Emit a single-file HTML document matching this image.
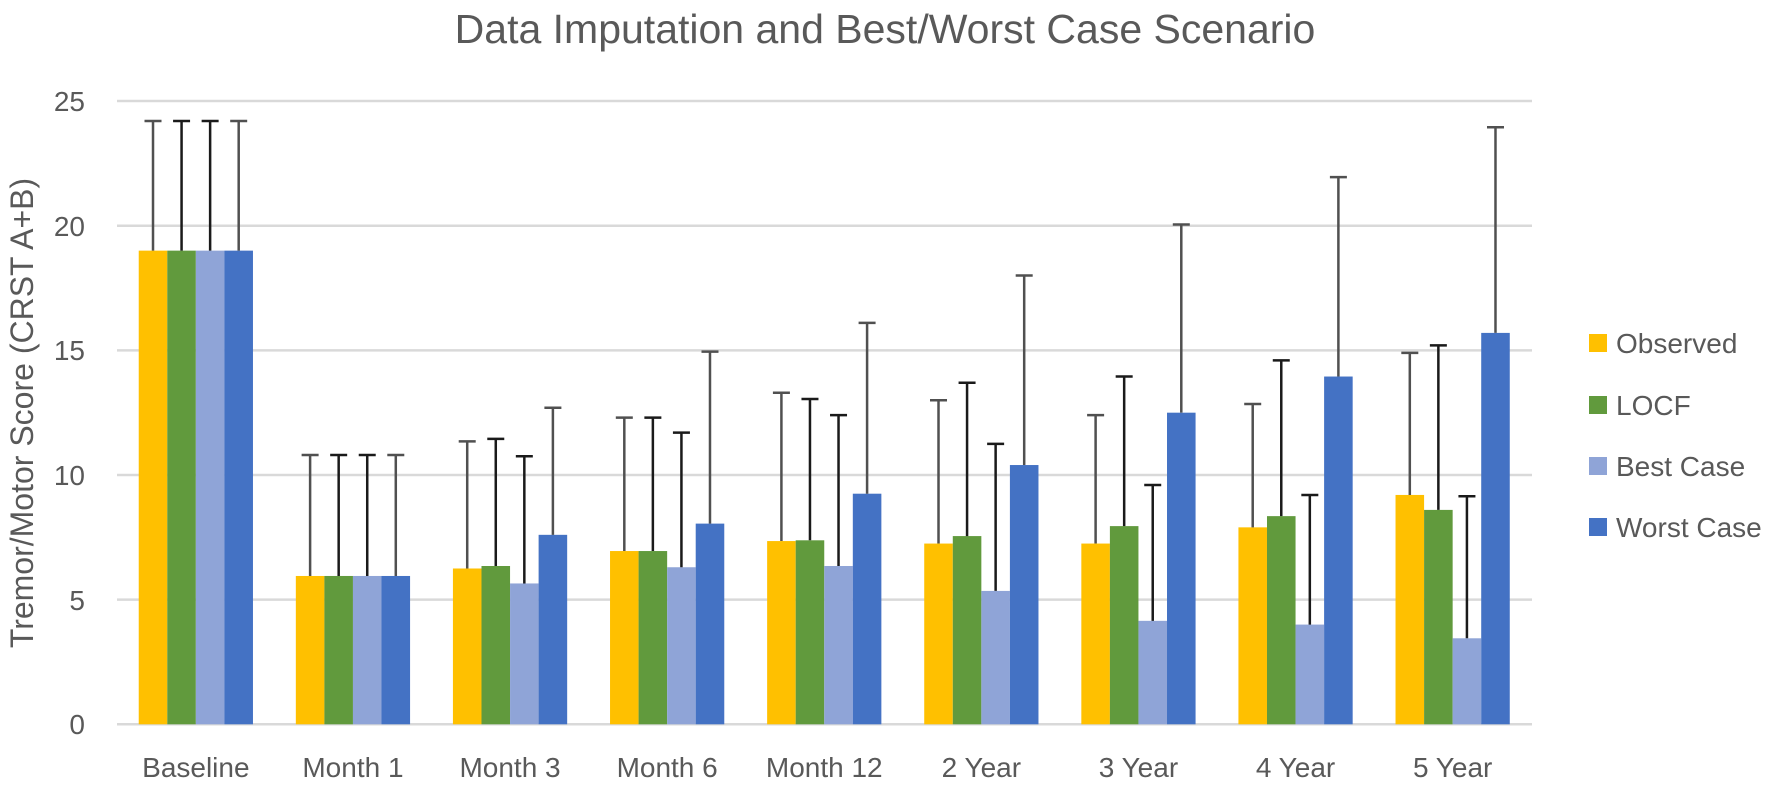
<!DOCTYPE html>
<html><head><meta charset="utf-8"><style>
html,body{margin:0;padding:0;background:#fff;}
svg{display:block;}
text{font-family:"Liberation Sans",Arial,sans-serif;fill:#595959;}
</style></head><body>
<svg width="1772" height="785" viewBox="0 0 1772 785" xmlns="http://www.w3.org/2000/svg">
<rect width="1772" height="785" fill="#fff"/>
<text x="885" y="43" font-size="41" text-anchor="middle">Data Imputation and Best/Worst Case Scenario</text>
<g stroke="#d9d9d9" stroke-width="2.5">
<line x1="117" x2="1532" y1="101.05" y2="101.05"/>
<line x1="117" x2="1532" y1="225.7" y2="225.7"/>
<line x1="117" x2="1532" y1="350.35" y2="350.35"/>
<line x1="117" x2="1532" y1="475" y2="475"/>
<line x1="117" x2="1532" y1="599.65" y2="599.65"/>
<line x1="117" x2="1532" y1="724.3" y2="724.3"/>
</g>
<g font-size="28" text-anchor="end">
<text x="85" y="111">25</text>
<text x="85" y="236">20</text>
<text x="85" y="360">15</text>
<text x="85" y="485">10</text>
<text x="85" y="610">5</text>
<text x="85" y="734">0</text>
</g>
<text transform="translate(33,413) rotate(-90)" font-size="32" text-anchor="middle">Tremor/Motor Score (CRST A+B)</text>

<!-- Baseline -->
<g transform="translate(195.85,0)">
<rect x="-57.12" y="250.63" width="28.56" height="473.67" fill="#FFC000"/>
<rect x="-28.56" y="250.63" width="28.56" height="473.67" fill="#619A3D"/>
<rect x="0" y="250.63" width="28.56" height="473.67" fill="#8FA4D7"/>
<rect x="28.56" y="250.63" width="28.56" height="473.67" fill="#4472C4"/>
<path d="M-42.84 250.63V120.99M-51.34 120.99H-34.34M42.84 250.63V120.99M34.34 120.99H51.34" stroke="#505050" stroke-width="2.5" fill="none"/>
<path d="M-14.28 250.63V120.99M-22.78 120.99H-5.78M14.28 250.63V120.99M5.78 120.99H22.78" stroke="#1a1a1a" stroke-width="2.5" fill="none"/>
</g>
<!-- Month 1 -->
<g transform="translate(352.95,0)">
<rect x="-57.12" y="575.97" width="28.56" height="148.33" fill="#FFC000"/>
<rect x="-28.56" y="575.97" width="28.56" height="148.33" fill="#619A3D"/>
<rect x="0" y="575.97" width="28.56" height="148.33" fill="#8FA4D7"/>
<rect x="28.56" y="575.97" width="28.56" height="148.33" fill="#4472C4"/>
<path d="M-42.84 575.97V455.06M-51.34 455.06H-34.34M42.84 575.97V455.06M34.34 455.06H51.34" stroke="#505050" stroke-width="2.5" fill="none"/>
<path d="M-14.28 575.97V455.06M-22.78 455.06H-5.78M14.28 575.97V455.06M5.78 455.06H22.78" stroke="#1a1a1a" stroke-width="2.5" fill="none"/>
</g>
<!-- Month 3 -->
<g transform="translate(510.05,0)">
<rect x="-57.12" y="568.49" width="28.56" height="155.81" fill="#FFC000"/>
<rect x="-28.56" y="566.0" width="28.56" height="158.3" fill="#619A3D"/>
<rect x="0" y="583.45" width="28.56" height="140.85" fill="#8FA4D7"/>
<rect x="28.56" y="534.83" width="28.56" height="189.47" fill="#4472C4"/>
<path d="M-42.84 568.49V441.34M-51.34 441.34H-34.34M42.84 534.83V407.69M34.34 407.69H51.34" stroke="#505050" stroke-width="2.5" fill="none"/>
<path d="M-14.28 566.0V438.85M-22.78 438.85H-5.78M14.28 583.45V456.3M5.78 456.3H22.78" stroke="#1a1a1a" stroke-width="2.5" fill="none"/>
</g>
<!-- Month 6 -->
<g transform="translate(667.15,0)">
<rect x="-57.12" y="551.04" width="28.56" height="173.26" fill="#FFC000"/>
<rect x="-28.56" y="551.04" width="28.56" height="173.26" fill="#619A3D"/>
<rect x="0" y="567.24" width="28.56" height="157.06" fill="#8FA4D7"/>
<rect x="28.56" y="523.61" width="28.56" height="200.69" fill="#4472C4"/>
<path d="M-42.84 551.04V417.66M-51.34 417.66H-34.34M42.84 523.61V351.6M34.34 351.6H51.34" stroke="#505050" stroke-width="2.5" fill="none"/>
<path d="M-14.28 551.04V417.66M-22.78 417.66H-5.78M14.28 567.24V432.62M5.78 432.62H22.78" stroke="#1a1a1a" stroke-width="2.5" fill="none"/>
</g>
<!-- Month 12 -->
<g transform="translate(824.25,0)">
<rect x="-57.12" y="541.06" width="28.56" height="183.24" fill="#FFC000"/>
<rect x="-28.56" y="540.3" width="28.56" height="184.0" fill="#619A3D"/>
<rect x="0" y="566.0" width="28.56" height="158.3" fill="#8FA4D7"/>
<rect x="28.56" y="493.7" width="28.56" height="230.6" fill="#4472C4"/>
<path d="M-42.84 541.06V392.73M-51.34 392.73H-34.34M42.84 493.7V322.93M34.34 322.93H51.34" stroke="#505050" stroke-width="2.5" fill="none"/>
<path d="M-14.28 540.3V398.96M-22.78 398.96H-5.78M14.28 566.0V415.17M5.78 415.17H22.78" stroke="#1a1a1a" stroke-width="2.5" fill="none"/>
</g>
<!-- 2 Year -->
<g transform="translate(981.35,0)">
<rect x="-57.12" y="543.56" width="28.56" height="180.74" fill="#FFC000"/>
<rect x="-28.56" y="536.08" width="28.56" height="188.22" fill="#619A3D"/>
<rect x="0" y="590.92" width="28.56" height="133.38" fill="#8FA4D7"/>
<rect x="28.56" y="465.03" width="28.56" height="259.27" fill="#4472C4"/>
<path d="M-42.84 543.56V400.21M-51.34 400.21H-34.34M42.84 465.03V275.56M34.34 275.56H51.34" stroke="#505050" stroke-width="2.5" fill="none"/>
<path d="M-14.28 536.08V382.76M-22.78 382.76H-5.78M14.28 590.92V443.84M5.78 443.84H22.78" stroke="#1a1a1a" stroke-width="2.5" fill="none"/>
</g>
<!-- 3 Year -->
<g transform="translate(1138.45,0)">
<rect x="-57.12" y="543.56" width="28.56" height="180.74" fill="#FFC000"/>
<rect x="-28.56" y="526.11" width="28.56" height="198.19" fill="#619A3D"/>
<rect x="0" y="620.84" width="28.56" height="103.46" fill="#8FA4D7"/>
<rect x="28.56" y="412.68" width="28.56" height="311.62" fill="#4472C4"/>
<path d="M-42.84 543.56V415.17M-51.34 415.17H-34.34M42.84 412.68V224.45M34.34 224.45H51.34" stroke="#505050" stroke-width="2.5" fill="none"/>
<path d="M-14.28 526.11V376.53M-22.78 376.53H-5.78M14.28 620.84V484.97M5.78 484.97H22.78" stroke="#1a1a1a" stroke-width="2.5" fill="none"/>
</g>
<!-- 4 Year -->
<g transform="translate(1295.55,0)">
<rect x="-57.12" y="527.35" width="28.56" height="196.95" fill="#FFC000"/>
<rect x="-28.56" y="516.13" width="28.56" height="208.17" fill="#619A3D"/>
<rect x="0" y="624.58" width="28.56" height="99.72" fill="#8FA4D7"/>
<rect x="28.56" y="376.53" width="28.56" height="347.77" fill="#4472C4"/>
<path d="M-42.84 527.35V403.95M-51.34 403.95H-34.34M42.84 376.53V177.09M34.34 177.09H51.34" stroke="#505050" stroke-width="2.5" fill="none"/>
<path d="M-14.28 516.13V360.32M-22.78 360.32H-5.78M14.28 624.58V494.94M5.78 494.94H22.78" stroke="#1a1a1a" stroke-width="2.5" fill="none"/>
</g>
<!-- 5 Year -->
<g transform="translate(1452.65,0)">
<rect x="-57.12" y="494.94" width="28.56" height="229.36" fill="#FFC000"/>
<rect x="-28.56" y="509.9" width="28.56" height="214.4" fill="#619A3D"/>
<rect x="0" y="638.29" width="28.56" height="86.01" fill="#8FA4D7"/>
<rect x="28.56" y="332.9" width="28.56" height="391.4" fill="#4472C4"/>
<path d="M-42.84 494.94V352.84M-51.34 352.84H-34.34M42.84 332.9V127.22M34.34 127.22H51.34" stroke="#505050" stroke-width="2.5" fill="none"/>
<path d="M-14.28 509.9V345.36M-22.78 345.36H-5.78M14.28 638.29V496.19M5.78 496.19H22.78" stroke="#1a1a1a" stroke-width="2.5" fill="none"/>
</g>

<g font-size="28" text-anchor="middle">
<text x="195.85" y="777">Baseline</text>
<text x="352.95" y="777">Month 1</text>
<text x="510.05" y="777">Month 3</text>
<text x="667.15" y="777">Month 6</text>
<text x="824.25" y="777">Month 12</text>
<text x="981.35" y="777">2 Year</text>
<text x="1138.45" y="777">3 Year</text>
<text x="1295.55" y="777">4 Year</text>
<text x="1452.65" y="777">5 Year</text>
</g>

<g font-size="28">
<rect x="1589" y="334" width="18" height="18" fill="#FFC000"/>
<text x="1616" y="353">Observed</text>
<rect x="1589" y="396" width="18" height="18" fill="#619A3D"/>
<text x="1616" y="415">LOCF</text>
<rect x="1589" y="457" width="18" height="18" fill="#8FA4D7"/>
<text x="1616" y="476">Best Case</text>
<rect x="1589" y="518" width="18" height="18" fill="#4472C4"/>
<text x="1616" y="537">Worst Case</text>
</g>
</svg>
</body></html>
